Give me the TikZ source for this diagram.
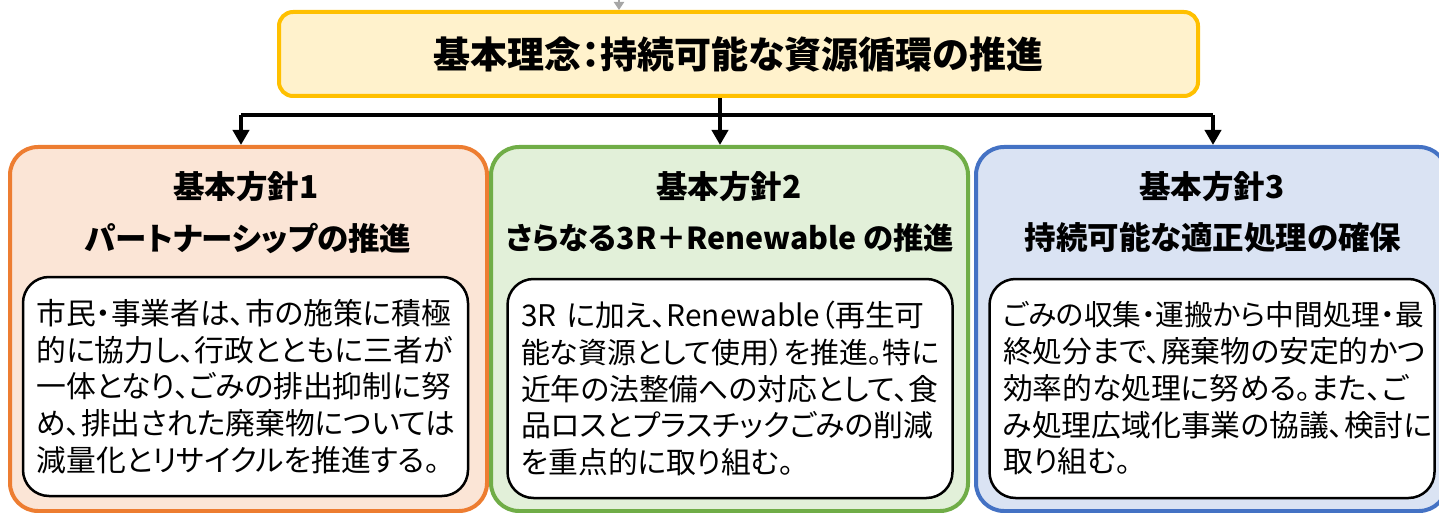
\documentclass[tikz,border=0pt]{standalone}
\usepackage{fontspec}
\setmainfont{Noto Sans CJK JP}[RawFeature={+palt}]
\usetikzlibrary{arrows.meta}
\definecolor{topB}{HTML}{FFC000}
\definecolor{topF}{HTML}{FFF2CC}
\definecolor{oneB}{HTML}{ED7D31}
\definecolor{oneF}{HTML}{FBE5D6}
\definecolor{twoB}{HTML}{70AD47}
\definecolor{twoF}{HTML}{E2F0D9}
\definecolor{thrB}{HTML}{4472C4}
\definecolor{thrF}{HTML}{DAE3F3}
\definecolor{grayA}{HTML}{A6A6A6}
\newcommand{\tightline}[2]{{\fontsize{#1}{36.7}\selectfont #2}}
\begin{document}
\begin{tikzpicture}[x=1pt,y=-1pt,
  topbox/.style={draw=topB, fill=topF, line width=4pt, rounded corners=14pt,
    minimum width=919pt, minimum height=84pt, inner sep=0pt,
    font=\bfseries\fontsize{37}{44}\selectfont},
  panel/.style={line width=4pt, rounded corners=28pt, minimum height=364pt, inner sep=0pt},
  bodybox/.style={draw=black, fill=white, line width=2.5pt, rounded corners=26pt,
    minimum width=445pt, minimum height=219pt, text width=418pt, inner xsep=13.5pt,
    inner ysep=0pt, align=left, font=\fontsize{29.8}{36.7}\selectfont},
  ptitle/.style={font=\bfseries\fontsize{31.5}{36}\selectfont, inner sep=0pt},
  conn/.style={line width=4pt},
  arr/.style={line width=4pt, -{Triangle[width=16pt,length=15pt]}},
  grayarr/.style={draw=grayA, line width=2pt, -{Triangle[width=10pt,length=8pt]}}]
\useasboundingbox (0,0) rectangle (1439,513);

\node[topbox] (top) at (738.5,54) {基本理念：持続可能な資源循環の推進};

\node[panel, draw=oneB, fill=oneF, minimum width=477pt] (p1) at (248.5,329) {};
\node[panel, draw=twoB, fill=twoF, minimum width=477pt] (p2) at (729.5,329) {};
\node[panel, draw=thrB, fill=thrF, minimum width=471pt] (p3) at (1211.5,329) {};

\node[ptitle] (t1a) at (246,187) {基本方針1};
\node[ptitle] (t1b) at (248,238) {パートナーシップの推進};
\node[ptitle] (t2a) at (729,187) {基本方針2};
\node[ptitle, font=\bfseries\fontsize{30.3}{36}\selectfont] (t2b) at (730,238) {さらなる3R＋Renewable の推進};
\node[ptitle] (t3a) at (1212,187) {基本方針3};
\node[ptitle] (t3b) at (1213,238) {持続可能な適正処理の確保};

\node[bodybox] (b1) at (245.5,386.5) {市民・事業者は、市の施策に積極\\
的に協力し、行政とともに三者が\\
一体となり、ごみの排出抑制に努\\
め、排出された廃棄物については\\
減量化とリサイクルを推進する。};
\node[bodybox] (b2) at (730,388.5) {3R~に加え、Renewable（再生可\\
\tightline{28.9}{能な資源として使用）を推進。特に}\\
近年の法整備への対応として、食\\
品ロスとプラスチックごみの削減\\
を重点的に取り組む。};
\node[bodybox] (b3) at (1212,388.5) {\tightline{28.7}{ごみの収集・運搬から中間処理・最}\\
終処分まで、廃棄物の安定的かつ\\
効率的な処理に努める。また、ご\\
み処理広域化事業の協議、検討に\\
取り組む。};

\coordinate (hub) at (720,115);
\coordinate (hl) at (241,115);
\coordinate (hr) at (1213,115);
\coordinate (gsrc) at (619,-30);

\draw[conn] (top.south -| hub) -- (hub);
\draw[conn] (hl) -- (hr);
\draw[arr] (hl) -- (hl |- p1.north);
\draw[arr] (hub) -- (hub |- p2.north);
\draw[arr] (hr) -- (hr |- p3.north);
\draw[grayarr] (gsrc) -- (gsrc |- top.north);
\end{tikzpicture}
\end{document}
